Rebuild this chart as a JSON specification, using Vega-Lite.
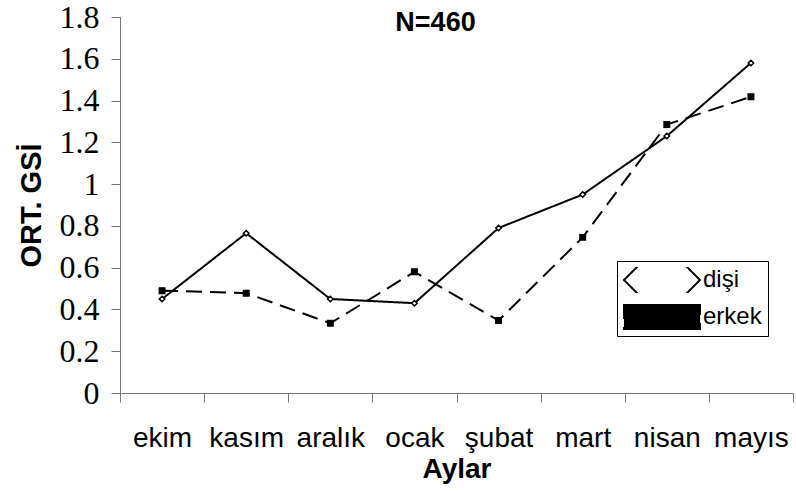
{
  "$schema": "https://vega.github.io/schema/vega-lite/v6.json",
  "width": 673,
  "height": 376,
  "autosize": "none",
  "padding": {"left": 120, "top": 17, "right": 3, "bottom": 98},
  "background": "white",
  "title": {
    "text": "N=460",
    "font": "Liberation Sans",
    "fontSize": 27,
    "fontWeight": "bold",
    "color": "black",
    "anchor": "middle",
    "baseline": "alphabetic",
    "offset": 0,
    "dx": -21,
    "dy": 57
  },
  "data": {
    "values": [
      {"ay": "ekim", "cinsiyet": "dişi", "gsi": 0.45},
      {"ay": "kasım", "cinsiyet": "dişi", "gsi": 0.765},
      {"ay": "aralık", "cinsiyet": "dişi", "gsi": 0.45},
      {"ay": "ocak", "cinsiyet": "dişi", "gsi": 0.43},
      {"ay": "şubat", "cinsiyet": "dişi", "gsi": 0.79},
      {"ay": "mart", "cinsiyet": "dişi", "gsi": 0.95},
      {"ay": "nisan", "cinsiyet": "dişi", "gsi": 1.23},
      {"ay": "mayıs", "cinsiyet": "dişi", "gsi": 1.58},
      {"ay": "ekim", "cinsiyet": "erkek", "gsi": 0.49},
      {"ay": "kasım", "cinsiyet": "erkek", "gsi": 0.478},
      {"ay": "aralık", "cinsiyet": "erkek", "gsi": 0.334},
      {"ay": "ocak", "cinsiyet": "erkek", "gsi": 0.58},
      {"ay": "şubat", "cinsiyet": "erkek", "gsi": 0.347},
      {"ay": "mart", "cinsiyet": "erkek", "gsi": 0.745},
      {"ay": "nisan", "cinsiyet": "erkek", "gsi": 1.285},
      {"ay": "mayıs", "cinsiyet": "erkek", "gsi": 1.418}
    ]
  },
  "encoding": {
    "x": {
      "field": "ay",
      "type": "nominal",
      "sort": ["ekim", "kasım", "aralık", "ocak", "şubat", "mart", "nisan", "mayıs"],
      "scale": {"type": "band", "paddingInner": 0, "paddingOuter": 0},
      "axis": {
        "title": "Aylar",
        "tickBand": "extent",
        "labelAngle": 0,
        "labelFont": "Liberation Sans",
        "labelFontSize": 28,
        "labelColor": "black",
        "labelPadding": 22,
        "tickSize": 9,
        "tickColor": "#777",
        "domainColor": "#777",
        "titleFont": "Liberation Sans",
        "titleFontSize": 28,
        "titleFontWeight": "bold",
        "titleColor": "black",
        "titlePadding": 3,
        "grid": false
      }
    },
    "y": {
      "field": "gsi",
      "type": "quantitative",
      "scale": {"domain": [0, 1.8], "nice": false, "zero": true},
      "axis": {
        "title": "ORT. GSİ",
        "values": [0, 0.2, 0.4, 0.6, 0.8, 1, 1.2, 1.4, 1.6, 1.8],
        "format": "~g",
        "labelFont": "Liberation Serif",
        "labelFontSize": 32,
        "labelColor": "black",
        "labelPadding": 12,
        "tickSize": 9,
        "tickColor": "#777",
        "domainColor": "#777",
        "titleFont": "Liberation Sans",
        "titleFontSize": 29,
        "titleFontWeight": "bold",
        "titleColor": "black",
        "titleAngle": -90,
        "titleAlign": "center",
        "titleBaseline": "alphabetic",
        "titleX": -80,
        "titleY": 188,
        "grid": false
      }
    }
  },
  "layer": [
    {
      "mark": {"type": "line", "color": "black", "strokeWidth": 2},
      "encoding": {
        "strokeDash": {
          "field": "cinsiyet",
          "type": "nominal",
          "scale": {"domain": ["dişi", "erkek"], "range": [[1, 0], [16, 8]]}
        }
      }
    },
    {
      "mark": {"type": "point", "filled": false, "opacity": 1, "stroke": "black", "strokeWidth": 1.5},
      "encoding": {
        "shape": {
          "field": "cinsiyet",
          "type": "nominal",
          "scale": {"domain": ["dişi", "erkek"], "range": ["diamond", "square"]},
          "legend": {
            "title": null,
            "orient": "none",
            "legendX": 497,
            "legendY": 244,
            "padding": 6,
            "fillColor": "white",
            "strokeColor": "black",
            "symbolSize": 5776,
            "symbolStrokeWidth": 2,
            "symbolStrokeColor": "black",
            "clipHeight": 26,
            "rowPadding": 11,
            "labelOffset": 2,
            "labelFont": "Liberation Sans",
            "labelFontSize": 24,
            "labelColor": "black",
            "encode": {
              "symbols": {
                "shape": {
                  "condition": {
                    "test": "datum.value === 'dişi'",
                    "value": "M-0.92,0H-0.12M0.12,0H0.92M-0.12,0L0,-0.12L0.12,0L0,0.12Z"
                  },
                  "value": "M-0.92,0H-0.5M-0.16,0H0.16M0.48,0H0.92M-0.1,-0.1H0.1V0.1H-0.1Z"
                },
                "stroke": {"value": "black"},
                "strokeWidth": {"value": 2},
                "strokeDash": {"value": [1, 0]},
                "opacity": {"value": 1}
              }
            }
          }
        },
        "fill": {
          "field": "cinsiyet",
          "type": "nominal",
          "scale": {"domain": ["dişi", "erkek"], "range": ["white", "black"]}
        }
      }
    }
  ],
  "config": {
    "view": {"stroke": null}
  }
}
